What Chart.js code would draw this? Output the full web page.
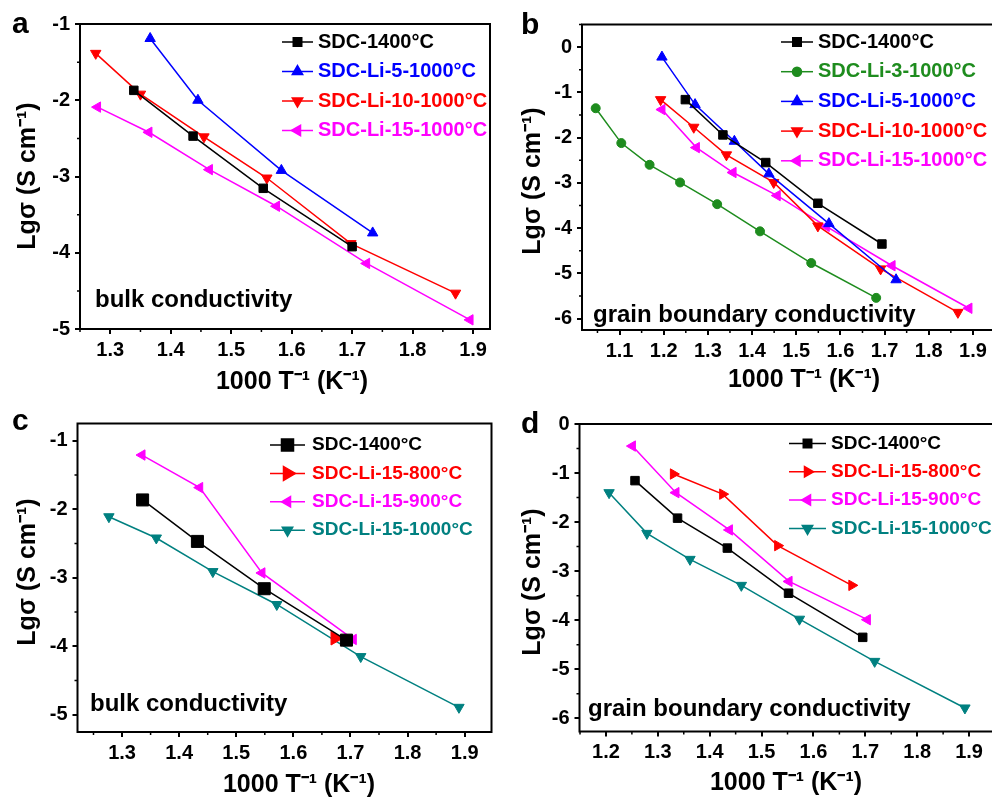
<!DOCTYPE html>
<html><head><meta charset="utf-8">
<script src="https://cdn.jsdelivr.net/npm/chart.js@4.4.0/dist/chart.umd.min.js"></script>
<style>
html,body{margin:0;padding:0;background:#fff;overflow:hidden;width:992px;height:799px;position:relative;}
canvas{position:absolute;left:0;top:0;}
</style></head><body>
<canvas id="ca" width="1010" height="799"></canvas>
<canvas id="cb" width="1010" height="799"></canvas>
<canvas id="cc" width="1010" height="799"></canvas>
<canvas id="cd" width="1010" height="799"></canvas>
<script>
// ---------- DATA ----------
// Panel a (bulk conductivity)
const aSDC1400X = [1.339, 1.437, 1.553, 1.700];
const aSDC1400Y = [-1.87, -2.47, -3.155, -3.92];
const aLi5X = [1.366, 1.445, 1.583, 1.734];
const aLi5Y = [-1.19, -2.00, -2.92, -3.74];
const aLi10X = [1.276, 1.350, 1.455, 1.559, 1.698, 1.871];
const aLi10Y = [-1.385, -1.92, -2.48, -3.02, -3.88, -4.53];
const aLi15X = [1.279, 1.364, 1.464, 1.575, 1.724, 1.895];
const aLi15Y = [-2.09, -2.42, -2.91, -3.39, -4.14, -4.88];
// Panel b (grain boundary conductivity)
const bSDC1400X = [1.249, 1.334, 1.431, 1.549, 1.694];
const bSDC1400Y = [-1.16, -1.94, -2.55, -3.45, -4.35];
const bLi3X = [1.046, 1.104, 1.168, 1.237, 1.321, 1.418, 1.534, 1.681];
const bLi3Y = [-1.35, -2.12, -2.60, -2.99, -3.47, -4.07, -4.77, -5.54];
const bLi5X = [1.196, 1.271, 1.360, 1.438, 1.574, 1.726];
const bLi5Y = [-0.22, -1.27, -2.08, -2.80, -3.90, -5.14];
const bLi10X = [1.193, 1.268, 1.342, 1.449, 1.549, 1.691, 1.866];
const bLi10Y = [-1.16, -1.77, -2.38, -2.99, -3.95, -4.90, -5.86];
const bLi15X = [1.196, 1.274, 1.357, 1.457, 1.568, 1.717, 1.891];
const bLi15Y = [-1.38, -2.22, -2.77, -3.28, -3.96, -4.83, -5.77];
// Panel c (bulk conductivity)
const cSDC1400X = [1.336, 1.432, 1.549, 1.693];
const cSDC1400Y = [-1.865, -2.47, -3.16, -3.91];
const cLi15_800X = [1.673];
const cLi15_800Y = [-3.88];
const cLi15_900X = [1.335, 1.436, 1.545, 1.705];
const cLi15_900Y = [-1.21, -1.685, -2.93, -3.90];
const cLi15_1000X = [1.277, 1.360, 1.459, 1.571, 1.718, 1.890];
const cLi15_1000Y = [-2.11, -2.42, -2.91, -3.39, -4.15, -4.89];
// Panel d (grain boundary conductivity)
const dSDC1400X = [1.256, 1.338, 1.434, 1.552, 1.695];
const dSDC1400Y = [-1.155, -1.92, -2.53, -3.45, -4.35];
const dLi15_800X = [1.330, 1.425, 1.531, 1.674];
const dLi15_800Y = [-1.02, -1.43, -2.48, -3.29];
const dLi15_900X = [1.251, 1.335, 1.438, 1.553, 1.704];
const dLi15_900Y = [-0.45, -1.40, -2.16, -3.21, -3.99];
const dLi15_1000X = [1.206, 1.279, 1.362, 1.461, 1.573, 1.718, 1.892];
const dLi15_1000Y = [-1.40, -2.23, -2.76, -3.29, -3.98, -4.84, -5.79];

// labels
const panelLetters = ['a', 'b', 'c', 'd'];
const panelNotes = ['bulk conductivity', 'grain boundary conductivity', 'bulk conductivity', 'grain boundary conductivity'];
const xTitle = '1000 T\u207B\u00B9 (K\u207B\u00B9)';
const yTitle = 'Lg\u03C3 (S cm\u207B\u00B9)';
const xTickStep = 0.1;
const yTickStep = 1;

// ---------- STYLE ----------
const FONT = '"Liberation Sans", Arial, Helvetica, sans-serif';
const C = {black:'#000000', blue:'#0000ff', red:'#ff0000', mag:'#ff00ff', green:'#1e8c1e', teal:'#008080'};
const CW = 1010, CH = 799;

function ser(label, xs, ys, color, style, rot, r) {
  return {
    label, data: xs.map((x, i) => ({x, y: ys[i]})),
    showLine: true, borderColor: color, backgroundColor: color, borderWidth: 1.5,
    pointStyle: style, rotation: rot, pointRadius: r, pointBorderWidth: 1,
    pointBackgroundColor: color, pointBorderColor: color, tension: 0, clip: false
  };
}

const deco = {
  id: 'deco',
  afterDraw(chart, args, o) {
    const ctx = chart.ctx, ca = chart.chartArea;
    const xs = chart.scales.x, ys = chart.scales.y;
    ctx.save();
    ctx.strokeStyle = '#000';
    ctx.lineWidth = 2;
    ctx.strokeRect(ca.left, ca.top, ca.right - ca.left, ca.bottom - ca.top);
    // minor ticks
    ctx.lineWidth = 1.5;
    ctx.beginPath();
    const xm = xTickStep / 2, ym = yTickStep / 2;
    for (let k = Math.ceil(xs.min / xm - 1e-9); k <= Math.floor(xs.max / xm + 1e-9); k++) {
      if (k % 2 === 0) continue;
      const px = xs.getPixelForValue(k * xm);
      ctx.moveTo(px, ca.bottom); ctx.lineTo(px, ca.bottom + 3);
    }
    for (let k = Math.ceil(ys.min / ym - 1e-9); k <= Math.floor(ys.max / ym + 1e-9); k++) {
      if (k % 2 === 0) continue;
      const py = ys.getPixelForValue(k * ym);
      ctx.moveTo(ca.left, py); ctx.lineTo(ca.left - 3, py);
    }
    ctx.stroke();
    // legend
    const L = o.legend;
    ctx.textBaseline = 'middle';
    ctx.textAlign = 'left';
    ctx.font = 'bold ' + L.size + 'px ' + FONT;
    chart.data.datasets.forEach((ds, i) => {
      const y = L.y0 + i * L.dy;
      ctx.strokeStyle = ds.borderColor; ctx.lineWidth = 1.5;
      ctx.beginPath(); ctx.moveTo(L.x1, y); ctx.lineTo(L.x2, y); ctx.stroke();
      ctx.fillStyle = ds.borderColor;
      Chart.helpers.drawPoint(ctx, {pointStyle: ds.pointStyle, radius: L.r || ds.pointRadius, rotation: ds.rotation, borderWidth: 1}, (L.x1 + L.x2) / 2, y);
      ctx.fillStyle = ds.borderColor;
      ctx.fillText(ds.label, L.tx, y);
    });
    // note
    ctx.fillStyle = '#000';
    ctx.font = 'bold ' + o.note.size + 'px ' + FONT;
    ctx.fillText(o.note.text, o.note.x, o.note.y);
    // letter
    ctx.font = 'bold 30px ' + FONT;
    ctx.fillText(o.letter.text, o.letter.x, o.letter.y);
    // axis titles
    ctx.font = 'bold 25px ' + FONT;
    ctx.textAlign = 'center';
    ctx.fillText(xTitle, o.xt.x, o.xt.y);
    ctx.save();
    ctx.translate(o.yt.x, o.yt.y);
    ctx.rotate(-Math.PI / 2);
    ctx.fillText(yTitle, 0, 0);
    ctx.restore();
    ctx.restore();
  }
};

function make(id, P, datasets) {
  const YW = 60, XH = 50;
  const tickFont = {family: FONT, size: 20, weight: 'bold'};
  return new Chart(document.getElementById(id), {
    type: 'scatter',
    data: {datasets},
    options: {
      responsive: false, animation: false, events: [],
      layout: {padding: {left: P.L - YW, top: P.T, right: CW - P.R, bottom: CH - P.B - XH}},
      plugins: {legend: {display: false}, tooltip: {enabled: false}, deco: P.deco},
      scales: {
        x: {
          type: 'linear', min: P.xmin, max: P.xmax,
          afterFit: s => { s.height = XH; },
          border: {display: false},
          grid: {drawOnChartArea: false, drawTicks: true, tickLength: 5, lineWidth: 2, color: '#000'},
          ticks: {stepSize: xTickStep, includeBounds: false, font: tickFont, color: '#000', padding: 4, maxRotation: 0,
                  callback: v => Number(v).toFixed(1)}
        },
        y: {
          type: 'linear', min: P.ymin, max: P.ymax,
          afterFit: s => { s.width = YW; },
          border: {display: false},
          grid: {drawOnChartArea: false, drawTicks: true, tickLength: 5, lineWidth: 2, color: '#000'},
          ticks: {stepSize: yTickStep, includeBounds: false, font: tickFont, color: '#000', padding: 5,
                  callback: v => String(Math.round(v))}
        }
      }
    },
    plugins: [deco]
  });
}

Chart.register(deco);

make('ca', {
  L: 80, R: 490, T: 24, B: 329, xmin: 1.25, xmax: 1.928, ymin: -5, ymax: -1,
  deco: {
    legend: {x1: 282, x2: 313, tx: 318, y0: 42, dy: 29.5, size: 20},
    note: {text: panelNotes[0], x: 95, y: 300, size: 24},
    letter: {text: panelLetters[0], x: 12, y: 25},
    xt: {x: 292, y: 382}, yt: {x: 28, y: 176}
  }
}, [
  ser('SDC-1400\u00B0C', aSDC1400X, aSDC1400Y, C.black, 'rect', 0, 6),
  ser('SDC-Li-5-1000\u00B0C', aLi5X, aLi5Y, C.blue, 'triangle', 0, 6),
  ser('SDC-Li-10-1000\u00B0C', aLi10X, aLi10Y, C.red, 'triangle', 180, 6),
  ser('SDC-Li-15-1000\u00B0C', aLi15X, aLi15Y, C.mag, 'triangle', -90, 6)
]);

make('cb', {
  L: 582, R: 995, T: 24.5, B: 330, xmin: 1.015, xmax: 1.95, ymin: -6.25, ymax: 0.5,
  deco: {
    legend: {x1: 781, x2: 813, tx: 818, y0: 42, dy: 29.7, size: 20},
    note: {text: panelNotes[1], x: 593, y: 315, size: 24},
    letter: {text: panelLetters[1], x: 521, y: 26},
    xt: {x: 804, y: 380}, yt: {x: 533, y: 181}
  }
}, [
  ser('SDC-1400\u00B0C', bSDC1400X, bSDC1400Y, C.black, 'rect', 0, 6),
  ser('SDC-Li-3-1000\u00B0C', bLi3X, bLi3Y, C.green, 'circle', 0, 4.5),
  ser('SDC-Li-5-1000\u00B0C', bLi5X, bLi5Y, C.blue, 'triangle', 0, 6),
  ser('SDC-Li-10-1000\u00B0C', bLi10X, bLi10Y, C.red, 'triangle', 180, 6),
  ser('SDC-Li-15-1000\u00B0C', bLi15X, bLi15Y, C.mag, 'triangle', -90, 6)
]);

make('cc', {
  L: 77.5, R: 491.5, T: 423.5, B: 732, xmin: 1.222, xmax: 1.947, ymin: -5.25, ymax: -0.75,
  deco: {
    legend: {x1: 270, x2: 305, tx: 312, y0: 445, dy: 28.4, size: 19},
    note: {text: panelNotes[2], x: 90, y: 704, size: 24},
    letter: {text: panelLetters[2], x: 12, y: 422},
    xt: {x: 299, y: 785}, yt: {x: 28, y: 572}
  }
}, [
  ser('SDC-1400\u00B0C', cSDC1400X, cSDC1400Y, C.black, 'rect', 0, 8.5),
  ser('SDC-Li-15-800\u00B0C', cLi15_800X, cLi15_800Y, C.red, 'triangle', 90, 8),
  ser('SDC-Li-15-900\u00B0C', cLi15_900X, cLi15_900Y, C.mag, 'triangle', -90, 6),
  ser('SDC-Li-15-1000\u00B0C', cLi15_1000X, cLi15_1000Y, C.teal, 'triangle', 180, 6)
]);

make('cd', {
  L: 579.5, R: 995, T: 424, B: 731.5, xmin: 1.149, xmax: 1.95, ymin: -6.27, ymax: 0,
  deco: {
    legend: {x1: 789, x2: 826, tx: 831, y0: 443.5, dy: 28.3, size: 19},
    note: {text: panelNotes[3], x: 588, y: 709, size: 24},
    letter: {text: panelLetters[3], x: 521, y: 425},
    xt: {x: 786, y: 783}, yt: {x: 533, y: 582}
  }
}, [
  ser('SDC-1400\u00B0C', dSDC1400X, dSDC1400Y, C.black, 'rect', 0, 6),
  ser('SDC-Li-15-800\u00B0C', dLi15_800X, dLi15_800Y, C.red, 'triangle', 90, 6),
  ser('SDC-Li-15-900\u00B0C', dLi15_900X, dLi15_900Y, C.mag, 'triangle', -90, 6),
  ser('SDC-Li-15-1000\u00B0C', dLi15_1000X, dLi15_1000Y, C.teal, 'triangle', 180, 6)
]);
</script>
</body></html>
